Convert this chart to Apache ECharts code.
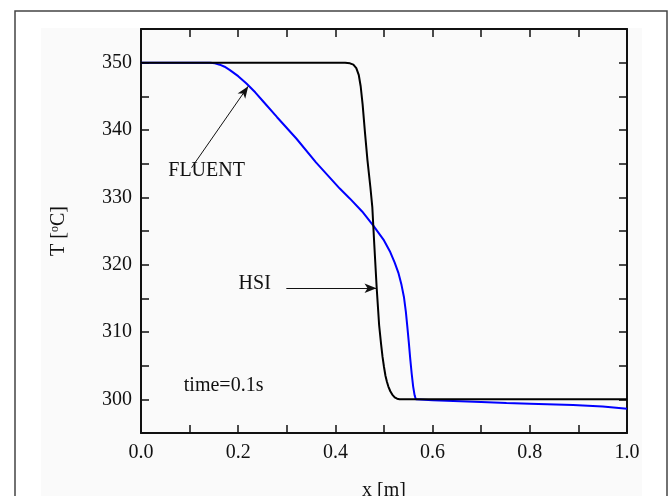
<!DOCTYPE html>
<html>
<head>
<meta charset="utf-8">
<script src="https://cdn.jsdelivr.net/npm/echarts@6/dist/echarts.min.js"></script>
<style>
html,body{margin:0;padding:0;background:#fff;}
#chart{width:670px;height:496px;}
</style>
</head>
<body>
<div id="chart"></div>
<script>
// HSI (black) curve
const hsiX = [0, 0.1, 0.2, 0.3, 0.4, 0.42, 0.43, 0.437, 0.443, 0.448, 0.452, 0.456, 0.461, 0.466, 0.472, 0.476, 0.48, 0.485, 0.49, 0.494, 0.497, 0.5, 0.503, 0.506, 0.509, 0.513, 0.517, 0.522, 0.527, 0.532, 0.54, 0.6, 0.8, 1.0];
const hsiY = [350, 350, 350, 350, 350, 350, 349.9, 349.7, 349.2, 348.2, 346.5, 343.8, 339.5, 335.5, 331.5, 328.5, 323, 316.5, 311, 308.2, 306.3, 304.8, 303.5, 302.6, 301.9, 301.2, 300.7, 300.3, 300.1, 300.02, 300, 300, 300, 300];
// FLUENT (blue) curve
const fluentX = [0, 0.1, 0.142, 0.152, 0.162, 0.172, 0.183, 0.2, 0.217, 0.235, 0.252, 0.28, 0.32, 0.36, 0.409, 0.43, 0.455, 0.478, 0.5, 0.512, 0.522, 0.53, 0.536, 0.541, 0.545, 0.548, 0.551, 0.554, 0.557, 0.56, 0.563, 0.5655, 0.6, 0.7, 0.752, 0.8, 0.889, 0.95, 1.0];
const fluentY = [350, 350, 350, 349.9, 349.7, 349.4, 348.9, 348.0, 346.9, 345.6, 344.2, 341.9, 338.7, 335.2, 331.3, 329.8, 327.9, 325.8, 323.6, 322.0, 320.3, 318.7, 317.0, 315.2, 313.0, 310.8, 308.5, 306.0, 303.8, 301.9, 300.6, 300, 299.85, 299.6, 299.45, 299.35, 299.15, 298.95, 298.6];
// annotations
const fluentArrow = [[0.104, 334.4], [0.2207, 346.5]];
const hsiArrow = [[0.299, 316.5], [0.4846, 316.5]];
const labels = [
  {text: 'FLUENT', pos: [0.135, 334.0]},
  {text: 'HSI', pos: [0.234, 317.1]},
  {text: 'time=0.1s', pos: [0.170, 302.0]}
];
const xLabelTicks = [0, 0.2, 0.4, 0.6, 0.8, 1.0];
const yLabelTicks = [300, 310, 320, 330, 340, 350];

const FONT = "'Liberation Serif','Times New Roman',serif";
const chart = echarts.init(document.getElementById('chart'), null, {renderer: 'canvas'});

function zip(a, b) { return a.map((v, i) => [v, b[i]]); }

const axisCommon = {
  axisLine: {show: true, onZero: false, lineStyle: {color: '#111', width: 2}},
  axisTick: {show: true, inside: true, length: 8, lineStyle: {color: '#111', width: 1.5}},
  splitLine: {show: false}
};

const option = {
  animation: false,
  backgroundColor: '#ffffff',
  graphic: [
    {type: 'rect', z: -100, silent: true, shape: {x: 15, y: 11, width: 652, height: 500},
     style: {fill: '#ffffff', stroke: '#444', lineWidth: 1.5}},
    {type: 'rect', z: -99, silent: true, shape: {x: 41, y: 28, width: 601, height: 500},
     style: {fill: '#fafafa'}}
  ],
  grid: {left: 141, right: 43, top: 29, bottom: 63, show: false, containLabel: false, outerBoundsMode: 'none'},
  xAxis: [
    Object.assign({}, axisCommon, {
      type: 'value', min: 0, max: 1, interval: 0.1, position: 'bottom',
      name: 'x [m]', nameLocation: 'middle', nameGap: 48,
      nameTextStyle: {fontFamily: FONT, fontSize: 20, color: '#111'},
      axisLabel: {
        fontFamily: FONT, fontSize: 20, color: '#111', margin: 10,
        formatter: v => xLabelTicks.some(t => Math.abs(t - v) < 1e-6) ? v.toFixed(1) : ''
      }
    }),
    Object.assign({}, axisCommon, {
      type: 'value', min: 0, max: 1, interval: 0.1, position: 'top',
      axisLabel: {show: false}
    })
  ],
  yAxis: [
    Object.assign({}, axisCommon, {
      type: 'value', min: 295, max: 355, interval: 5, position: 'left',
      name: '{n|T [}{s|o}{n|C]}', nameLocation: 'middle', nameGap: 72, nameRotate: 90,
      nameTextStyle: {
        fontFamily: FONT, fontSize: 20, color: '#111',
        rich: {
          n: {fontFamily: FONT, fontSize: 20, color: '#111'},
          s: {fontFamily: FONT, fontSize: 12, color: '#111', verticalAlign: 'top', lineHeight: 20, padding: [0, 0, 8, 0]}
        }
      },
      axisLabel: {
        fontFamily: FONT, fontSize: 20, color: '#111', margin: 9,
        formatter: v => yLabelTicks.indexOf(Math.round(v)) >= 0 && Math.abs(v - Math.round(v)) < 1e-6 ? String(Math.round(v)) : ''
      }
    }),
    Object.assign({}, axisCommon, {
      type: 'value', min: 295, max: 355, interval: 5, position: 'right',
      axisLabel: {show: false}
    })
  ],
  series: [
    {
      name: 'HSI', type: 'line', data: zip(hsiX, hsiY), showSymbol: false,
      smooth: false,
      lineStyle: {color: '#000', width: 2}, z: 3,
      markLine: {
        silent: true, symbol: ['none', 'arrow'], symbolSize: [7, 12],
        label: {show: false},
        lineStyle: {color: '#111', width: 1, type: 'solid'},
        data: [
          [{coord: hsiArrow[0]}, {coord: hsiArrow[1]}],
          [{coord: fluentArrow[0]}, {coord: fluentArrow[1]}]
        ]
      },
      markPoint: {
        silent: true, symbol: 'circle', symbolSize: 0,
        label: {show: true, position: 'inside', fontFamily: FONT, fontSize: 20, color: '#111',
          formatter: p => p.name},
        data: labels.map(l => ({name: l.text, coord: l.pos}))
      }
    },
    {
      name: 'FLUENT', type: 'line', data: zip(fluentX, fluentY), showSymbol: false,
      smooth: false,
      lineStyle: {color: '#0000ff', width: 2}, z: 2
    }
  ]
};
chart.setOption(option);
</script>
</body>
</html>
